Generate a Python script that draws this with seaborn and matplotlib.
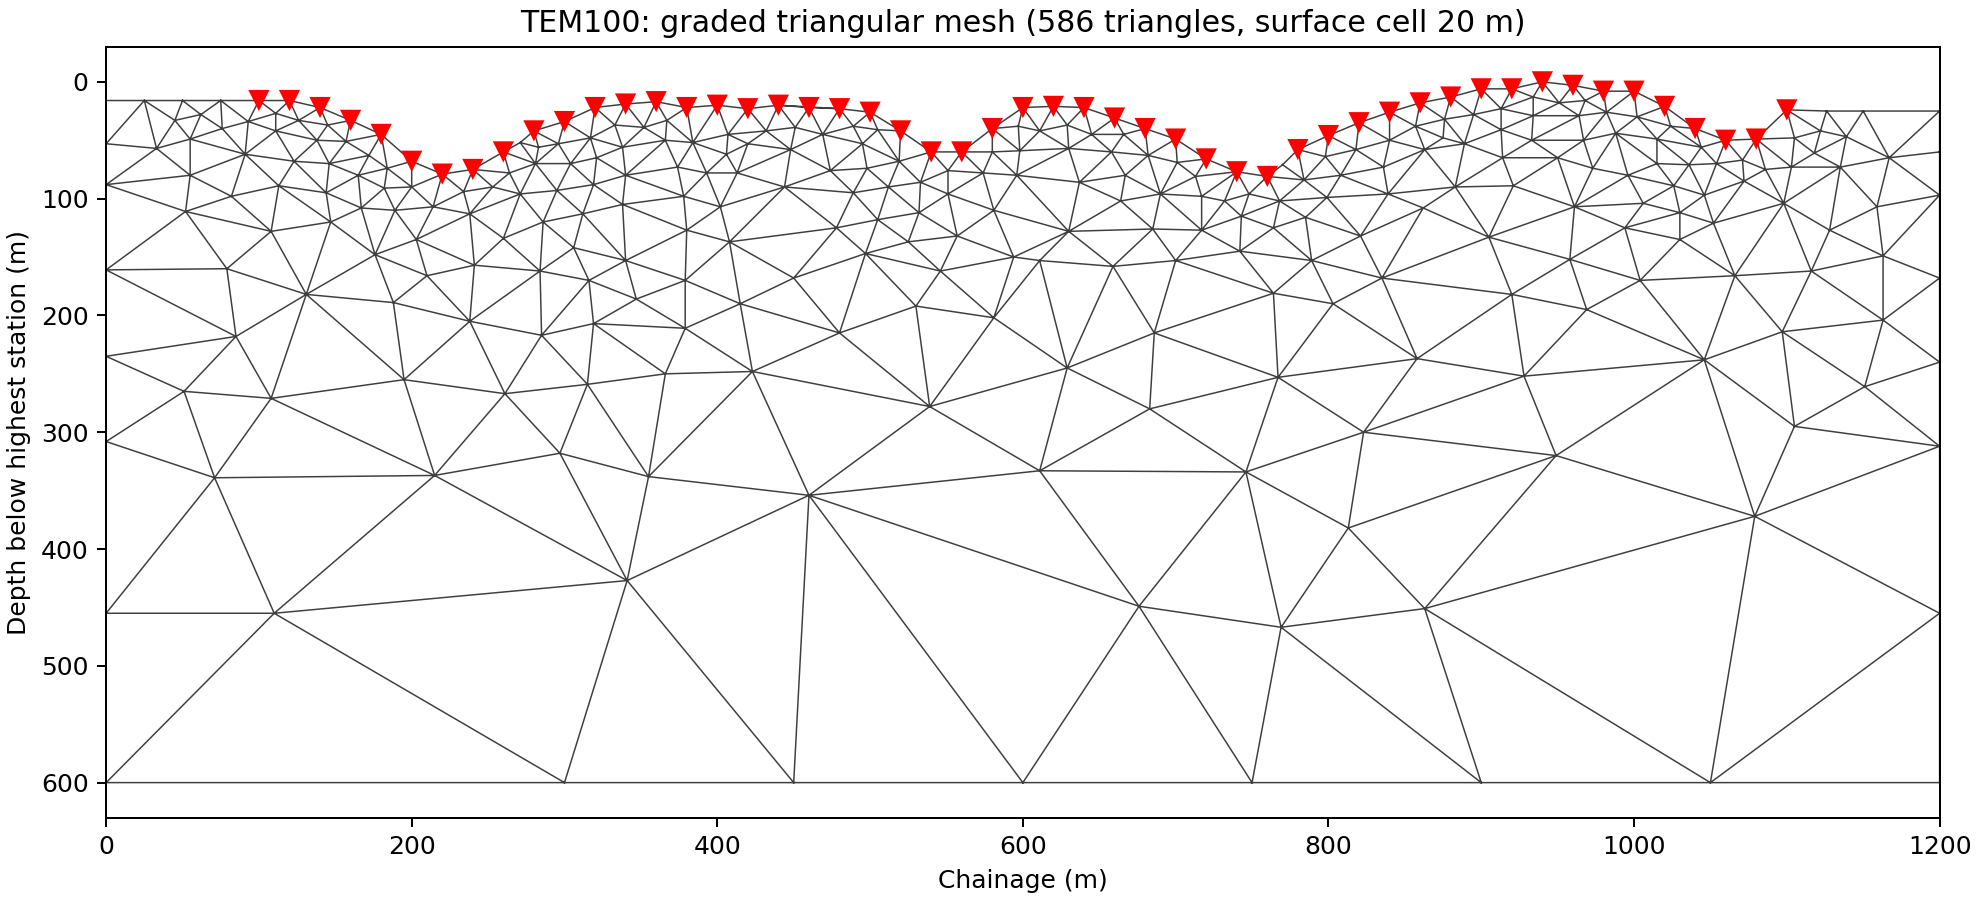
import numpy as np
import pandas as pd
import matplotlib
matplotlib.use("Agg")
import matplotlib.pyplot as plt
import matplotlib.tri as mtri
import seaborn as sns

# Estações TEM (chainage em m, profundidade abaixo da estação mais alta)
station_x = [100, 120, 140, 160, 180, 200, 220, 240, 260, 280,
             300, 320, 340, 360, 380, 400, 420, 440, 460, 480,
             500, 520, 540, 560, 580, 600, 620, 640, 660, 680,
             700, 720, 740, 760, 780, 800, 820, 840, 860, 880,
             900, 920, 940, 960, 980, 1000, 1020, 1040, 1060, 1080, 1100]
station_d = [16, 16, 22, 33, 45, 68, 79, 75, 60, 42,
             34, 22, 19, 17, 22, 20, 23, 20, 22, 23,
             26, 42, 60, 60, 40, 22, 21, 22, 31, 40,
             49, 66, 77, 81, 58, 46, 35, 26, 18, 13,
             6, 6, 0, 3, 8, 8, 21, 40, 50, 49, 24]

# Superfície fora das estações
left_x = [0, 25, 50, 75]
left_d = [16, 16, 16, 16]
right_x = [1126, 1150, 1200]
right_d = [25, 25, 25]

# Bordas do domínio
edge_l_d = [53, 88, 161, 235, 308, 455, 600]
edge_r_d = [60, 97, 168, 240, 312, 455, 600]
bottom_x = [300, 450, 600, 750, 900, 1050]

# Nós internos (x, profundidade)
nodes_a = [(33, 57), (45, 33), (62, 28), (76, 40), (55, 49), (93, 34), (91, 62), (55, 80),
           (82, 98), (52, 111), (108, 128), (79, 160), (111, 27), (111, 42), (126, 33),
           (138, 50), (145, 37), (157, 51), (123, 68), (113, 89), (146, 70), (172, 63),
           (165, 80), (184, 74), (182, 91), (200, 90), (214, 107), (189, 110), (167, 108),
           (144, 95), (234, 94), (238, 113), (253, 90), (264, 78), (271, 96), (281, 70),
           (271, 52), (283, 56), (296, 53), (295, 93), (286, 120), (260, 134), (241, 157),
           (203, 135), (176, 148), (147, 120), (284, 162), (210, 166)]
nodes_b = [(304, 70), (317, 48), (333, 37), (352, 39), (367, 33), (366, 50), (338, 56),
           (321, 65), (384, 52), (407, 45), (420, 53), (406, 62), (432, 42), (451, 39),
           (469, 45), (448, 58), (489, 38), (505, 41), (495, 53), (474, 76), (498, 74),
           (519, 68), (512, 90), (533, 86), (551, 76), (551, 96), (574, 78), (580, 60),
           (598, 59), (596, 80), (597, 38), (581, 110), (557, 132), (594, 150), (546, 162),
           (532, 112), (525, 137), (505, 118), (489, 95), (497, 147), (478, 125), (444, 90),
           (450, 168), (408, 137), (402, 107), (378, 98), (393, 78), (413, 78), (374, 73),
           (340, 80), (319, 88), (338, 105), (312, 113), (380, 127), (306, 142), (340, 153),
           (379, 170), (316, 170)]
nodes_c = [(611, 42), (629, 37), (645, 45), (666, 45), (630, 57), (658, 60), (682, 63),
           (637, 86), (667, 80), (701, 69), (713, 81), (690, 96), (717, 98), (748, 96),
           (732, 102), (768, 102), (743, 115), (784, 84), (770, 71), (798, 64), (808, 80),
           (818, 58), (840, 50), (836, 73), (857, 38), (863, 58), (875, 48), (876, 32),
           (895, 28), (889, 53), (913, 23), (913, 41), (934, 13), (934, 29), (914, 65),
           (883, 90), (921, 89), (839, 96), (862, 108), (905, 133), (821, 132), (799, 99),
           (785, 116), (764, 125), (742, 145), (789, 153), (835, 168), (717, 127), (685, 126),
           (700, 153), (664, 102), (630, 128), (659, 158), (611, 153)]
nodes_d = [(951, 18), (968, 16), (964, 29), (982, 26), (933, 50), (967, 50), (988, 44),
           (1002, 30), (1015, 49), (1024, 38), (1044, 56), (1015, 70), (1036, 71), (1054, 70),
           (1071, 67), (1072, 85), (1086, 75), (1103, 73), (1105, 48), (1122, 42), (1139, 47),
           (1118, 61), (1135, 73), (1167, 65), (1098, 104), (1159, 107), (1128, 127),
           (1163, 149), (1116, 162), (1066, 166), (1052, 121), (1046, 97), (1026, 89),
           (1030, 112), (1006, 104), (996, 80), (973, 74), (950, 65), (961, 107), (994, 125),
           (1030, 135), (958, 152), (1004, 170)]
nodes_deep = [(131, 182), (85, 218), (51, 265), (108, 271), (71, 339), (215, 337), (195, 255),
              (188, 189), (238, 205), (261, 267), (285, 217), (319, 207), (315, 259), (297, 318),
              (355, 338), (366, 250), (347, 186), (379, 211), (415, 190), (480, 215), (423, 248),
              (530, 192), (539, 278), (581, 202), (629, 245), (686, 215), (764, 181), (767, 253),
              (683, 280), (611, 333), (746, 334), (460, 354), (803, 190), (858, 237), (920, 182),
              (969, 195), (1163, 204), (1097, 214), (1046, 238), (1151, 261), (1105, 295),
              (1079, 372), (949, 320), (928, 252), (823, 300), (813, 382), (341, 427), (676, 449),
              (769, 467), (863, 451), (110, 455)]

# Montando a malha
surf_x = np.array(left_x + station_x + right_x, dtype=float)
surf_d = np.array(left_d + station_d + right_d, dtype=float)

interior = nodes_a + nodes_b + nodes_c + nodes_d + nodes_deep
xs = list(surf_x) + [0] * len(edge_l_d) + [1200] * len(edge_r_d) + bottom_x + [p[0] for p in interior]
ds = list(surf_d) + edge_l_d + edge_r_d + [600] * len(bottom_x) + [p[1] for p in interior]
xs = np.array(xs, dtype=float)
ds = np.array(ds, dtype=float)

tri = mtri.Triangulation(xs, ds)

# Remove triângulos acima da superfície (preenchimento do fecho convexo)
t = tri.triangles
px, pd_ = xs[t], ds[t]
checks_x = [px.mean(axis=1)] + [(px[:, i] + px[:, (i + 1) % 3]) / 2 for i in range(3)]
checks_d = [pd_.mean(axis=1)] + [(pd_[:, i] + pd_[:, (i + 1) % 3]) / 2 for i in range(3)]
mask = np.zeros(len(t), dtype=bool)
for cx, cd in zip(checks_x, checks_d):
    mask |= cd < np.interp(cx, surf_x, surf_d) - 0.5
tri.set_mask(mask)

stations = pd.DataFrame({"x": station_x, "d": station_d})

fig, ax = plt.subplots(figsize=(11, 5), dpi=180)
ax.triplot(tri, color="#3f3f3f", lw=0.6)
sns.scatterplot(data=stations, x="x", y="d", marker="v", color="red", s=72,
                edgecolor="none", ax=ax, zorder=5, clip_on=False)

ax.set_xlim(0, 1200)
ax.set_ylim(630, -30)
ax.set_xlabel("Chainage (m)")
ax.set_ylabel("Depth below highest station (m)")
ax.set_title("TEM100: graded triangular mesh (586 triangles, surface cell 20 m)")

fig.subplots_adjust(left=0.0536, right=0.9796, top=0.948, bottom=0.0915)
fig.savefig("out.png", dpi=180)
